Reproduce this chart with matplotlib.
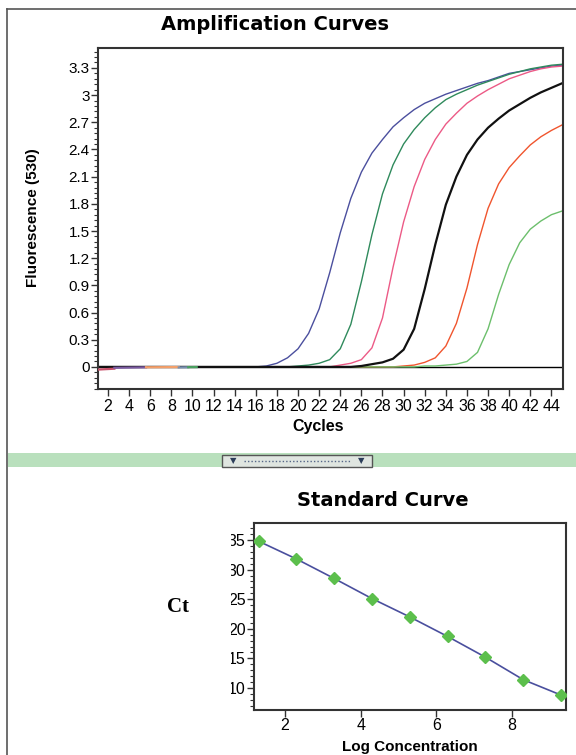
import numpy as np
from matplotlib import pyplot as plt
from matplotlib.patches import Rectangle
from matplotlib.lines import Line2D
from matplotlib.ticker import MultipleLocator

W, H = 576, 755

cycles = list(range(1, 46))

# fluorescence (530) per cycle
blue = [0.00, 0.00, 0.00, 0.00, 0.00, 0.00, 0.00, 0.00, 0.00, 0.00,
        0.00, 0.00, 0.00, 0.00, 0.00, 0.00, 0.01, 0.04, 0.10, 0.20,
        0.37, 0.64, 1.04, 1.48, 1.86, 2.15, 2.36, 2.51, 2.65, 2.75,
        2.84, 2.91, 2.96, 3.01, 3.05, 3.09, 3.13, 3.16, 3.20, 3.24,
        3.26, 3.28, 3.30, 3.32, 3.33]
dkgreen = [0.00, 0.00, 0.00, 0.00, 0.00, 0.00, 0.00, 0.00, 0.00, 0.00,
           0.00, 0.00, 0.00, 0.00, 0.00, 0.00, 0.00, 0.00, 0.00, 0.01,
           0.02, 0.04, 0.08, 0.20, 0.47, 0.94, 1.46, 1.91, 2.23, 2.46,
           2.62, 2.75, 2.86, 2.95, 3.01, 3.06, 3.11, 3.15, 3.19, 3.23,
           3.26, 3.29, 3.31, 3.33, 3.34]
pink = [0.00, 0.00, 0.00, 0.00, 0.00, 0.00, 0.00, 0.00, 0.00, 0.00,
        0.00, 0.00, 0.00, 0.00, 0.00, 0.00, 0.00, 0.00, 0.00, 0.00,
        0.00, 0.00, 0.00, 0.02, 0.04, 0.08, 0.21, 0.54, 1.10, 1.60,
        1.99, 2.29, 2.51, 2.68, 2.80, 2.91, 2.99, 3.06, 3.12, 3.18,
        3.22, 3.26, 3.29, 3.31, 3.32]
black = [0.00, 0.00, 0.00, 0.00, 0.00, 0.00, 0.00, 0.00, 0.00, 0.00,
         0.00, 0.00, 0.00, 0.00, 0.00, 0.00, 0.00, 0.00, 0.00, 0.00,
         0.00, 0.00, 0.00, 0.00, 0.00, 0.01, 0.03, 0.05, 0.09, 0.19,
         0.42, 0.86, 1.35, 1.79, 2.10, 2.34, 2.51, 2.64, 2.74, 2.83,
         2.90, 2.97, 3.03, 3.08, 3.13]
orange = [0.00, 0.00, 0.00, 0.00, 0.00, 0.00, 0.00, 0.00, 0.00, 0.00,
          0.00, 0.00, 0.00, 0.00, 0.00, 0.00, 0.00, 0.00, 0.00, 0.00,
          0.00, 0.00, 0.00, 0.00, 0.00, 0.00, 0.00, 0.00, 0.00, 0.01,
          0.02, 0.05, 0.10, 0.23, 0.48, 0.87, 1.35, 1.75, 2.02, 2.20,
          2.33, 2.45, 2.54, 2.61, 2.67]
ltgreen = [0.00, 0.00, 0.00, 0.00, 0.00, 0.00, 0.00, 0.00, 0.00, 0.00,
           0.00, 0.00, 0.00, 0.00, 0.00, 0.00, 0.00, 0.00, 0.00, 0.00,
           0.00, 0.00, 0.00, 0.00, 0.00, 0.00, 0.00, 0.00, 0.00, 0.00,
           0.00, 0.01, 0.01, 0.02, 0.03, 0.06, 0.16, 0.42, 0.80, 1.13,
           1.37, 1.52, 1.61, 1.68, 1.72]

curves = [blue, dkgreen, pink, orange, ltgreen, black]
curve_colors = ['#4b4f9e', '#2f8a5c', '#ec5a86', '#f0552e', '#6cbf6c', '#111111']

# short baseline pieces of other wells in the first cycles
base_x = [[1, 2.6], [2.6, 5.6], [5.6, 8.7], [8.7, 9.6], [9.6, 10.4]]
base_y = [[-0.03, -0.02], [-0.01, -0.005], [-0.004, -0.002], [-0.006, -0.004], [-0.003, -0.002]]
base_colors = ['#c8506a', '#7a5aa0', '#f4a06a', '#7890b0', '#4aa060']

x_ticks = list(range(2, 45, 2))
y_ticks = [0, 0.3, 0.6, 0.9, 1.2, 1.5, 1.8, 2.1, 2.4, 2.7, 3, 3.3]
y_tick_text = ['0', '0.3', '0.6', '0.9', '1.2', '1.5', '1.8', '2.1', '2.4', '2.7', '3', '3.3']

# standard curve
log_conc = [1.3, 2.3, 3.3, 4.3, 5.3, 6.3, 7.3, 8.3, 9.3]
ct = [34.8, 31.8, 28.5, 25.1, 22.0, 18.7, 15.2, 11.4, 8.8]


def box(l, t, r, b):
    return [l / W, 1 - b / H, (r - l) / W, (b - t) / H]


fig = plt.figure(figsize=(W / 100, H / 100), dpi=100)
tickfont = 'Liberation Sans'
frame = '#333333'

# ---- amplification curves
ax = fig.add_axes(box(98, 48, 563, 389))
for vals, c in zip(curves, curve_colors):
    lw = 1.6 if c == '#111111' else 1.0
    ax.plot(cycles, vals, c=c, lw=lw)
for xs, ys, c in zip(base_x, base_y, base_colors):
    ax.plot(xs, ys, c=c, lw=1.6, zorder=5)
ax.axhline(0, c='black', lw=1.0, zorder=1)
ax.set_xlim(1.05, 45.1)
ax.set_ylim(-0.244, 3.52)
ax.set_xticks(x_ticks)
ax.set_xticklabels([str(v) for v in x_ticks], fontfamily=tickfont, fontsize=11.5)
ax.set_yticks(y_ticks)
ax.set_yticklabels(y_tick_text, fontfamily=tickfont, fontsize=11)
ax.yaxis.set_minor_locator(MultipleLocator(0.06))
ax.tick_params(which='major', direction='out', length=5, width=1, color=frame, pad=1)
ax.tick_params(which='minor', direction='out', length=3, width=0.8, color=frame)
ax.tick_params(axis='x', pad=2)
for s in ax.spines.values():
    s.set_color(frame)
    s.set_linewidth(1.5)

fig.text(275 / W, 1 - 24 / H, 'Amplification Curves', ha='center', va='center',
         fontsize=14, fontweight='heavy', family='DejaVu Sans')
fig.text(318 / W, 1 - 426 / H, 'Cycles', ha='center', va='center',
         fontsize=11.5, fontweight='bold', family=tickfont)
fig.text(33 / W, 1 - 218 / H, 'Fluorescence (530)', ha='center', va='center',
         rotation=90, fontsize=11, fontweight='bold', family=tickfont)

# ---- divider band
fig.patches.append(Rectangle((8 / W, 1 - 467 / H), (W - 8) / W, 14 / H,
                             transform=fig.transFigure, fc='#b9e0bd', ec='none'))
fig.patches.append(Rectangle((222 / W, 1 - 467 / H), 150 / W, 12 / H,
                             transform=fig.transFigure, fc='#dfe5e0', ec='#555555', lw=1))
fig.lines.append(Line2D([244 / W, 350 / W], [1 - 461 / H, 1 - 461 / H], transform=fig.transFigure,
                        c='#556688', lw=1, ls=(0, (1, 1.5))))
for xp in [233, 361]:
    fig.text(xp / W, 1 - 461 / H, '\u25bc', ha='center', va='center', fontsize=6,
             color='#2c3e5a', family='DejaVu Sans')

# outer frame lines
fig.lines.append(Line2D([7 / W, 7 / W], [0, 1 - 9 / H], transform=fig.transFigure, c='#555555', lw=1.2))
fig.lines.append(Line2D([7 / W, 1], [1 - 9 / H, 1 - 9 / H], transform=fig.transFigure, c='#555555', lw=1.2))

# ---- standard curve
ax2 = fig.add_axes(box(254, 523, 566, 710))
ax2.plot(log_conc, ct, c='#4a4f9e', lw=1.2, zorder=2)
ax2.plot(log_conc, ct, ls='none', marker='D', ms=6, mfc='#5cbf4c', mec='#5cbf4c', zorder=3)
ax2.set_xlim(1.18, 9.43)
ax2.set_ylim(6.28, 37.87)
ax2.set_xticks([2, 4, 6, 8])
ax2.set_xticklabels(['2', '4', '6', '8'], fontfamily=tickfont, fontsize=11.5)
ax2.set_yticks([10, 15, 20, 25, 30, 35])
ax2.set_yticklabels(['10', '15', '20', '25', '30', '35'], fontfamily=tickfont, fontsize=11.5)
ax2.yaxis.set_minor_locator(MultipleLocator(1))
ax2.tick_params(which='major', direction='out', length=5, width=1, color=frame, pad=1)
ax2.tick_params(which='minor', direction='out', length=3, width=0.8, color=frame)
for s in ax2.spines.values():
    s.set_color(frame)
    s.set_linewidth(1.5)

fig.text(383 / W, 1 - 501 / H, 'Standard Curve', ha='center', va='center',
         fontsize=14, fontweight='heavy', family='DejaVu Sans')
fig.text(410 / W, 1 - 754 / H, 'Log Concentration', ha='center', va='bottom',
         fontsize=11, fontweight='bold', family=tickfont)

# white patch that cuts the y labels, with the Ct label on top
fig.patches.append(Rectangle((9 / W, 0), 222 / W, 1 - 515 / H, transform=fig.transFigure,
                             fc='white', ec='none', zorder=10))
fig.text(178 / W, 1 - 607 / H, 'Ct', ha='center', va='center', fontsize=15,
         fontweight='bold', family='Liberation Serif', zorder=11)

fig.savefig('out.png', dpi=100)
